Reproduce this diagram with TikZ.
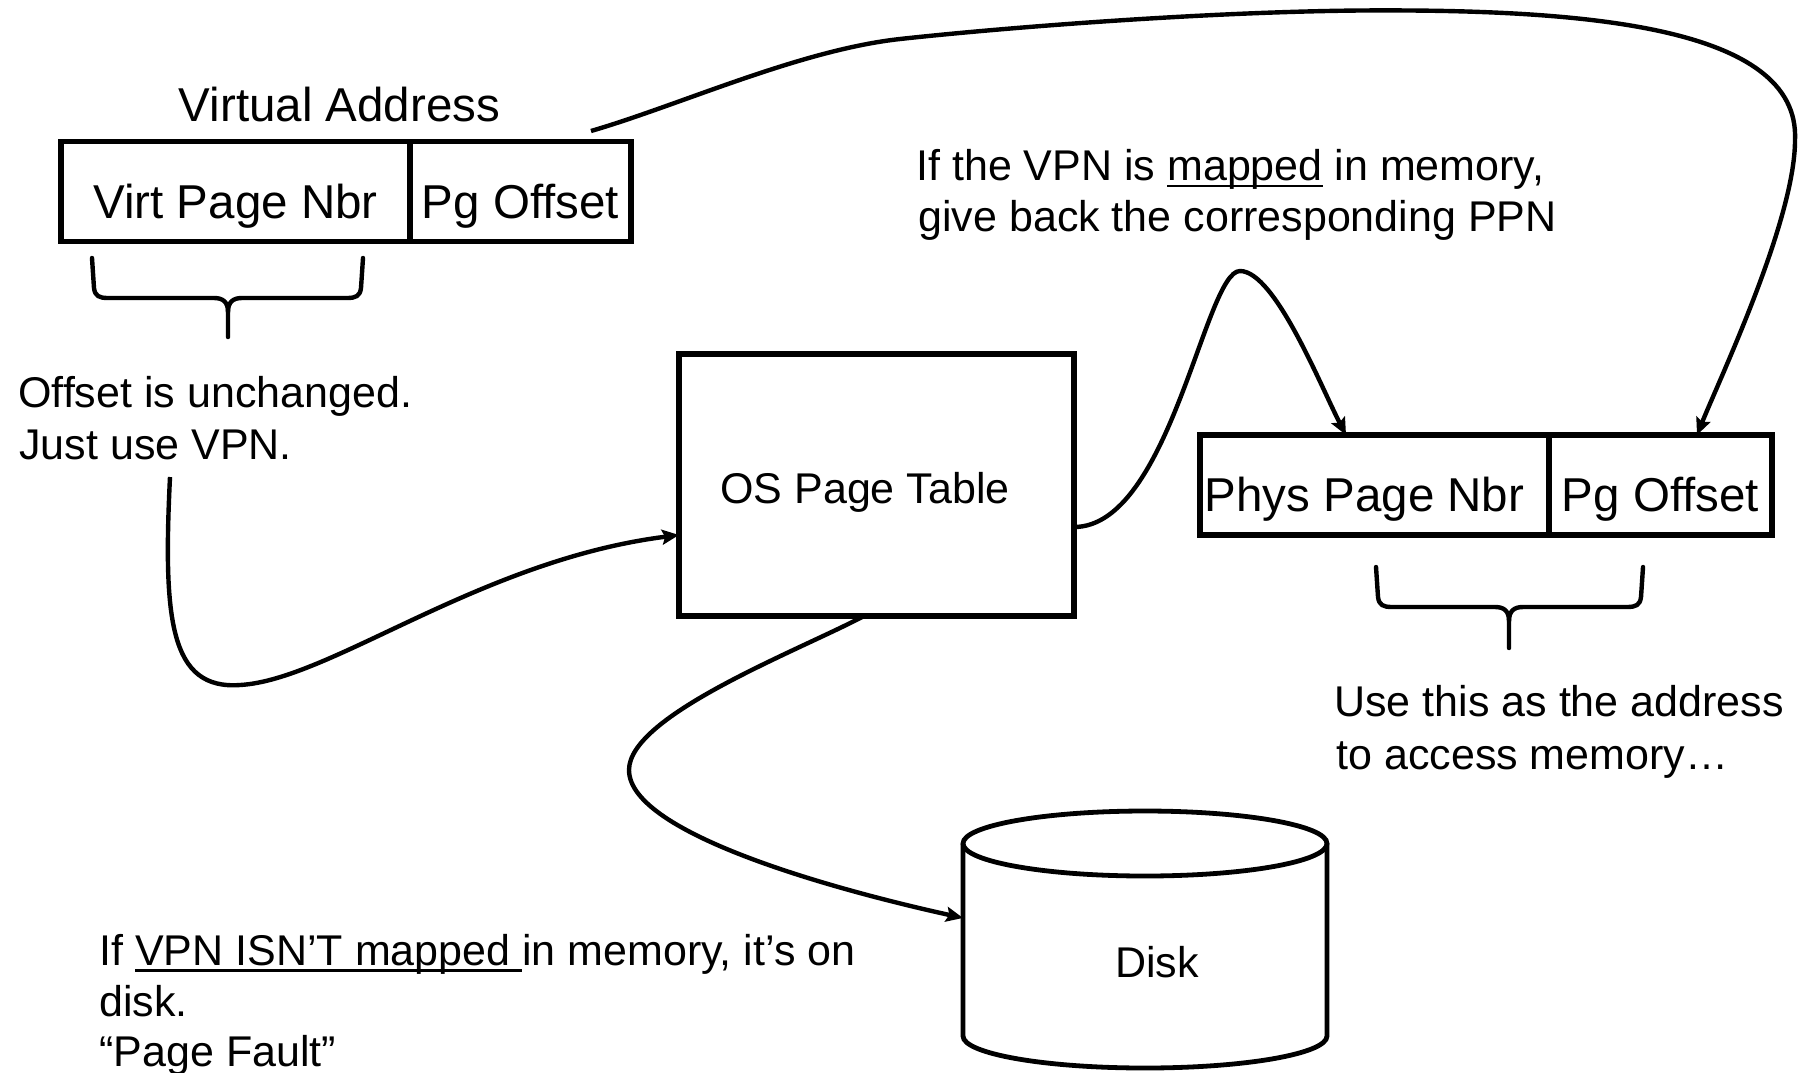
\documentclass[tikz,border=0pt]{standalone}
\usepackage{fontspec}
\setmainfont{Liberation Sans}
\usetikzlibrary{arrows.meta}

% underline at a fixed depth, running through the descenders
\newsavebox\ulbox
\newcommand\pptul[1]{\sbox\ulbox{#1}\rlap{\rule[-3.4pt]{\wd\ulbox}{1.3pt}}\usebox\ulbox}
\newcommand\bigtxt{\fontsize{23.75pt}{28pt}\selectfont}
\newcommand\smtxt{\fontsize{21.5pt}{26pt}\selectfont}

\tikzset{
  field/.style={draw, line width=2.6pt, inner sep=0pt, outer sep=0pt,
    minimum height=50pt, text height=26.5pt, text depth=0pt, font=\bigtxt},
  note/.style={anchor=base west, inner sep=0pt, font=\smtxt},
  link/.style={line width=2.2pt, -{Stealth[length=8.5pt,width=7.5pt,inset=1.5pt]}},
  bracket/.style={line width=2.2pt, line join=round, line cap=round},
  drum/.style={line width=2.4pt},
}

\begin{document}
\begin{tikzpicture}[x=0.5pt, y=-0.5pt]
\useasboundingbox (0,0) rectangle (1802,1072);

% virtual address
\node[anchor=base, inner sep=0pt, font=\bigtxt] (vatitle) at (339.5,121) {Virtual Address};
\node[field, minimum width=174.5pt] (vpn) at (235.5,191.5) {Virt Page Nbr};
\node[field, minimum width=110.5pt] (vpo) at (520.5,191.5) {Pg Offset};

% brace under the virtual page number
\draw[bracket] (92,258) -- (94,288) .. controls (95,296) and (99,298) .. (108,298)
  -- (214,298) .. controls (223,298) and (228,302) .. (228,312) -- (228,337);
\draw[bracket] (363,258) -- (361,288) .. controls (360,296) and (356,298) .. (347,298)
  -- (242,298) .. controls (233,298) and (228,302) .. (228,312);

\node[note] (off1) at (18,407) {Offset is unchanged.};
\node[note] (off2) at (19,459.5) {Just use VPN.};

% page table
\node[draw, line width=2.6pt, inner sep=0pt, outer sep=0pt, minimum width=197.5pt,
  minimum height=131pt, text height=18pt, text depth=0pt, font=\smtxt]
  (pt) at (876.5,485) {OS Page Table\hspace{11.5pt}\mbox{}};

% physical address
\node[field, minimum width=174.5pt] (ppn) at (1374.5,485) {Phys Page Nbr\hspace{10pt}\mbox{}};
\node[field, minimum width=111.5pt] (ppo) at (1660.5,485) {Pg Offset};

% brace under the physical address
\draw[bracket] (1376,567) -- (1378,597) .. controls (1379,605) and (1383,607) .. (1392,607)
  -- (1495,607) .. controls (1504,607) and (1509,611) .. (1509,621) -- (1509,648);
\draw[bracket] (1643,567) -- (1641,597) .. controls (1640,605) and (1636,607) .. (1627,607)
  -- (1523,607) .. controls (1514,607) and (1509,611) .. (1509,621);

\node[note] (use1) at (1334,716) {Use this as the address};
\node[note] (use2) at (1336,769) {to access memory…};

\node[note] (map1) at (916,180.5) {If the VPN is \pptul{mapped} in memory,};
\node[note] (map2) at (918,231.5) {give back the corresponding PPN};

% disk
\node[inner sep=0pt, outer sep=0pt, minimum width=182pt, minimum height=96.25pt,
  text height=37.25pt, text depth=0pt, font=\smtxt] (disk) at (1145,939.75) {\hspace{12pt}Disk};
\draw[drum] (disk.north west) -- (disk.south west)
  arc[start angle=180, end angle=360, x radius=91pt, y radius=16pt] -- (disk.north east);
\draw[drum] (disk.north) ellipse[x radius=91pt, y radius=16.25pt];

\node[note] (pf1) at (99,965) {If \pptul{VPN ISN’T mapped }in memory, it’s on};
\node[note] (pf2) at (99,1016.5) {disk.};
\node[note] (pf3) at (99,1066.5) {“Page Fault”};

% connectors
\coordinate (vpnfrom) at (170,477);
\draw[link] (vpnfrom) .. controls (163,620) and (170,690) .. (240,685)
  .. controls (330,680) and (480,560) .. ([yshift=-25pt]pt.west);

\draw[link] ([yshift=-21pt]pt.east) .. controls (1170,527) and (1205,271) .. (1240,271)
  .. controls (1275,271) and (1321,387) .. ([xshift=-14.25pt]ppn.north);

\draw[link] ([xshift=-6.25pt]pt.south) .. controls (800,650) and (629,715) .. (629,770)
  .. controls (629,835) and (845,892) .. ([yshift=10.9pt]disk.west);

\coordinate (vpofrom) at (591,131);
\draw[link] (vpofrom) .. controls (680,105) and (800,50) .. (900,39)
  .. controls (1000,28) and (1200,12) .. (1360,10.5)
  .. controls (1580,9) and (1800,25) .. (1795,140)
  .. controls (1795,220) and (1720,378) .. ([xshift=18.25pt]ppo.north);
\end{tikzpicture}
\end{document}
